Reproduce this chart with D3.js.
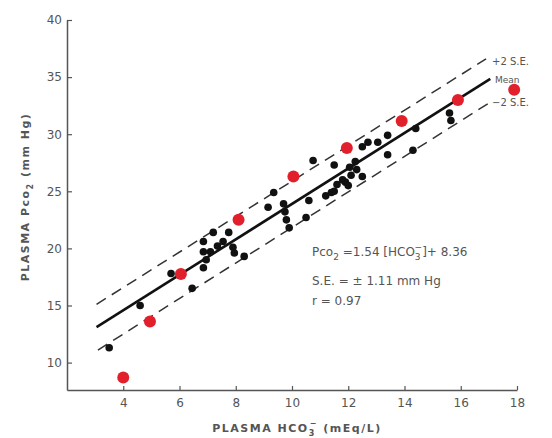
<!DOCTYPE html>
<html>
<head>
<meta charset="utf-8">
<script src="https://cdn.jsdelivr.net/npm/d3@7"></script>
<style>
  body { margin: 0; background: #fff; }
  svg { display: block; }
  text { font-family: "DejaVu Sans", sans-serif; fill: #555; }
</style>
</head>
<body>
<div id="chart"></div>
<script>
const WIDTH = 552
const HEIGHT = 438

// tick values
var xTicks = [4, 6, 8, 10, 12, 14, 16, 18]
var yTicks = [10, 15, 20, 25, 30, 35, 40]

// red points (mean values)
var redX = [4.0, 4.95, 6.05, 8.1, 10.05, 11.95, 13.9, 15.9, 17.9]
var redY = [8.7, 13.6, 17.75, 22.5, 26.3, 28.8, 31.15, 33.0, 33.9]

// black points (individual samples)
var blackX = [3.5, 4.6, 5.7, 6.45, 6.85, 6.95, 6.85, 7.1, 6.85, 7.2, 7.55, 7.75, 7.9, 7.95, 8.3, 7.35,
  9.15, 9.35, 9.7, 9.75, 9.8, 9.9, 10.5, 10.6, 10.75, 11.2, 11.4, 11.6, 11.9, 11.5,
  11.8, 12.05, 12.25, 12.3, 12.1, 12.5, 11.5, 12.5, 12.7, 13.05, 13.4, 13.4, 14.3, 14.4, 15.6, 15.65, 12.0]
var blackY = [11.3, 15.0, 17.8, 16.5, 18.3, 19.0, 19.7, 19.7, 20.6, 21.4, 20.6, 21.4, 20.1, 19.6, 19.3, 20.2,
  23.6, 24.9, 23.9, 23.2, 22.5, 21.8, 22.7, 24.2, 27.7, 24.6, 24.9, 25.6, 25.8, 27.3,
  26.0, 27.1, 27.6, 26.9, 26.4, 26.3, 25.0, 28.9, 29.3, 29.3, 29.9, 28.2, 28.6, 30.5, 31.85, 31.2, 25.5]

// regression line and +/- 2 S.E. band end points
var meanX = [3.05, 17.05], meanY = [13.1, 34.85]
var upperX = [3.05, 16.9], upperY = [15.1, 36.6]
var lowerX = [3.1, 17.05], lowerY = [11.1, 32.8]

var svg = d3.select("#chart")
  .append("svg")
  .attr("width", WIDTH)
  .attr("height", HEIGHT)

var x = d3.scaleLinear().domain([2, 18]).range([67, 517])
var y = d3.scaleLinear().domain([7.6, 40]).range([390, 20])

// axes
var xAxis = svg.append("g")
  .attr("transform", "translate(0," + y(7.6) + ")")
  .call(d3.axisBottom(x).tickValues(xTicks).tickSizeInner(-4).tickSizeOuter(0).tickPadding(8))
var yAxis = svg.append("g")
  .attr("transform", "translate(" + x(2) + ",0)")
  .call(d3.axisLeft(y).tickValues(yTicks).tickSizeInner(-5).tickSizeOuter(0).tickPadding(5))

;[xAxis, yAxis].forEach(function(a) {
  a.select(".domain").attr("stroke", "#555").attr("stroke-width", 1.5)
  a.selectAll(".tick line").attr("stroke", "#555").attr("stroke-width", 1.2)
  a.selectAll(".tick text").style("font-size", "12px").attr("fill", "#777")
})

// lines
var line = d3.line().x(function(d) { return x(d[0]) }).y(function(d) { return y(d[1]) })
function pts(xs, ys) { return xs.map(function(v, i) { return [v, ys[i]] }) }

svg.append("path").attr("d", line(pts(upperX, upperY)))
  .attr("stroke", "#333").attr("stroke-width", 1.5).attr("fill", "none").attr("stroke-dasharray", "11,7")
svg.append("path").attr("d", line(pts(lowerX, lowerY)))
  .attr("stroke", "#333").attr("stroke-width", 1.5).attr("fill", "none").attr("stroke-dasharray", "11,7")
svg.append("path").attr("d", line(pts(meanX, meanY)))
  .attr("stroke", "#111").attr("stroke-width", 2.6).attr("fill", "none")

// black points
svg.selectAll("circle.b")
  .data(pts(blackX, blackY))
  .enter().append("circle")
  .attr("class", "b")
  .attr("cx", function(d) { return x(d[0]) })
  .attr("cy", function(d) { return y(d[1]) })
  .attr("r", 3.8)
  .attr("fill", "#111")

// red points
svg.selectAll("circle.r")
  .data(pts(redX, redY))
  .enter().append("circle")
  .attr("class", "r")
  .attr("cx", function(d) { return x(d[0]) })
  .attr("cy", function(d) { return y(d[1]) })
  .attr("r", 6)
  .attr("fill", "#e2202c")

// line labels
svg.append("text").attr("x", 492).attr("y", 65).style("font-size", "10px").text("+2 S.E.")
svg.append("text").attr("x", 495).attr("y", 83).style("font-size", "9px").text("Mean")
svg.append("text").attr("x", 492).attr("y", 106).style("font-size", "10px").text("\u22122 S.E.")

// equation block
var eq = svg.append("text").attr("x", 312).attr("y", 256).style("font-size", "12px")
eq.append("tspan").text("Pco")
eq.append("tspan").attr("dy", 4).style("font-size", "9px").text("2")
eq.append("tspan").attr("dy", -4).text(" =1.54 [HCO")
eq.append("tspan").attr("dy", 4).style("font-size", "9px").text("3")
eq.append("tspan").attr("dy", -10).attr("dx", -6).style("font-size", "9px").text("\u2212")
eq.append("tspan").attr("dy", 6).text("]+ 8.36")

svg.append("text").attr("x", 312).attr("y", 285).style("font-size", "12px").text("S.E. = \u00b1 1.11 mm Hg")
svg.append("text").attr("x", 312).attr("y", 305).style("font-size", "12px").text("r = 0.97")

// axis titles
var xt = svg.append("text").attr("x", 297).attr("y", 432)
  .attr("text-anchor", "middle").style("font-size", "11px").style("font-weight", "bold").style("letter-spacing", "1.5px")
xt.append("tspan").text("PLASMA  HCO")
xt.append("tspan").attr("dy", 4).style("font-size", "8px").text("3")
xt.append("tspan").attr("dy", -10).attr("dx", -6).style("font-size", "8px").text("\u2212")
xt.append("tspan").attr("dy", 6).text(" (mEq/L)")

var yt = svg.append("text").attr("transform", "translate(29,197) rotate(-90)")
  .attr("text-anchor", "middle").style("font-size", "11px").style("font-weight", "bold").style("letter-spacing", "1.5px")
yt.append("tspan").text("PLASMA  Pco")
yt.append("tspan").attr("dy", 4).style("font-size", "8px").text("2")
yt.append("tspan").attr("dy", -4).text("  (mm Hg)")
</script>
</body>
</html>
